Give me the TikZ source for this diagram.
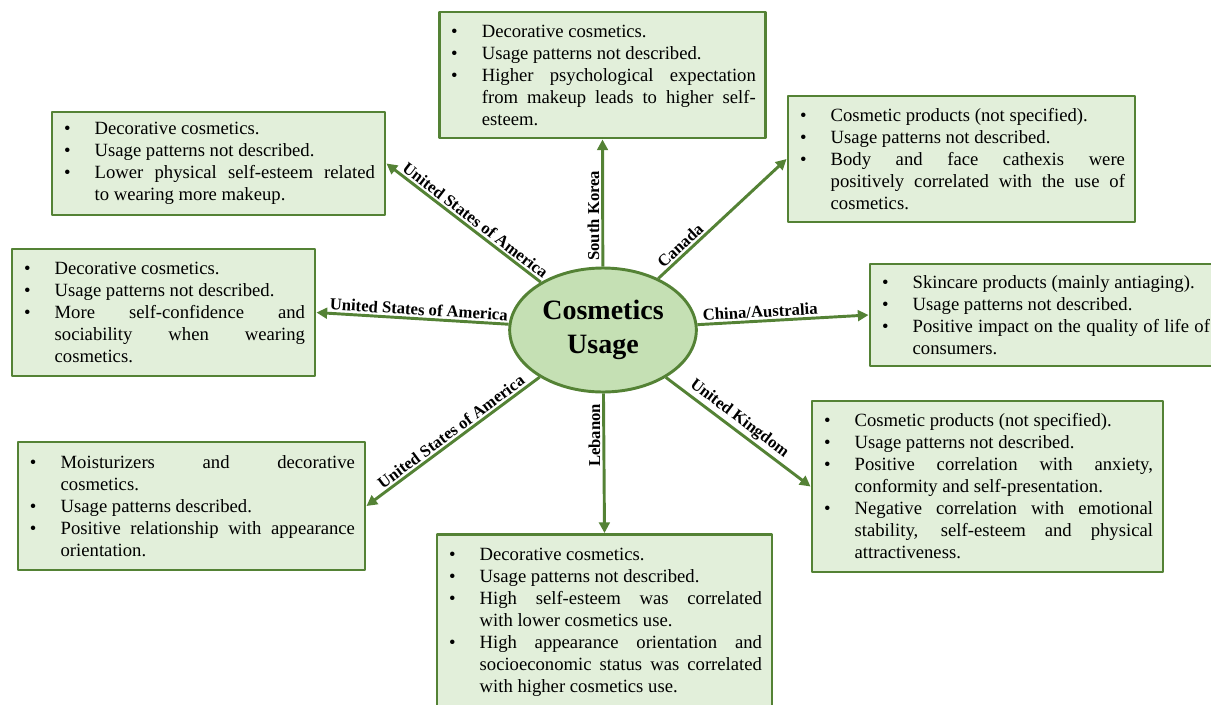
\documentclass[tikz,border=0pt]{standalone}
\usepackage{fontspec}
\setmainfont{Liberation Serif}
\usetikzlibrary{shapes.geometric,arrows.meta}
\definecolor{boxfill}{HTML}{E2EFDA}
\definecolor{boxline}{HTML}{548235}
\definecolor{ellfill}{HTML}{C5E0B4}
\newlength\itemind
\setlength\itemind{24.5pt}
\newcommand\bitem[1]{\hangindent=\itemind\hangafter=1\noindent\makebox[\itemind][l]{\hspace{1.5pt}\textbullet}#1\par}
\newcommand\boxfont{\fontsize{14pt}{16.5pt}\selectfont\hyphenpenalty=10000\tolerance=10000\emergencystretch=20pt}
\tikzset{
  infobox/.style={draw=boxline, line width=2.2pt, fill=boxfill, inner xsep=7.5pt, inner ysep=3pt, align=justify, font=\boxfont},
  link/.style={draw=boxline, line width=2.2pt, -{Triangle[width=8pt,length=8pt]}},
  country/.style={font=\fontsize{12.5pt}{14pt}\selectfont\bfseries, inner sep=1.5pt}
}
\begin{document}
\begin{tikzpicture}[x=0.75pt,y=0.75pt, line join=round]
\clip (0,0) rectangle (1211,-704);
% centre
\node[ellipse, draw=boxline, line width=2.2pt, fill=ellfill, minimum width=140pt, minimum height=93pt, inner sep=0pt, align=center,
  font=\fontsize{21pt}{25pt}\selectfont\bfseries] (cu) at (603,-330) {Cosmetics\\Usage};
% boxes
\node[infobox, text width=230pt, minimum height=94.5pt] (sk) at (602.5,-75) {%
  \bitem{Decorative cosmetics.}
  \bitem{Usage patterns not described.}
  \bitem{Higher psychological expectation \linebreak from makeup leads to higher self-\linebreak esteem.}};
\node[infobox, text width=234.75pt, minimum height=77.25pt] (us1) at (218.5,-163.5) {%
  \bitem{Decorative cosmetics.}
  \bitem{Usage patterns not described.}
  \bitem{Lower physical self-esteem related \linebreak to wearing more makeup.}};
\node[infobox, text width=245.25pt, minimum height=94.5pt] (ca) at (961.5,-159) {%
  \bitem{Cosmetic products (not specified).}
  \bitem{Usage patterns not described.}
  \bitem{Body and face cathexis were \linebreak positively correlated with the use of \linebreak cosmetics.}};
\node[infobox, text width=212.25pt, minimum height=95.25pt] (us2) at (163.5,-312.5) {%
  \bitem{Decorative cosmetics.}
  \bitem{Usage patterns not described.}
  \bitem{More self-confidence and \linebreak sociability when wearing \linebreak cosmetics.}};
\node[infobox, text width=247.5pt, minimum height=76.5pt] (cn) at (1045,-315) {%
  \bitem{Skincare products (mainly antiaging).}
  \bitem{Usage patterns not described.}
  \bitem{Positive impact on the quality of life of \linebreak consumers.}};
\node[infobox, text width=245.25pt, minimum height=96pt] (us3) at (191.5,-506) {%
  \bitem{Moisturizers and decorative \linebreak cosmetics.}
  \bitem{Usage patterns described.}
  \bitem{Positive relationship with appearance \linebreak orientation.}};
\node[infobox, text width=248.25pt, minimum height=128.25pt] (uk) at (987.5,-486.5) {%
  \bitem{Cosmetic products (not specified).}
  \bitem{Usage patterns not described.}
  \bitem{Positive correlation with anxiety, \linebreak conformity and self-presentation.}
  \bitem{Negative correlation with emotional \linebreak stability, self-esteem and physical \linebreak attractiveness.}};
\node[infobox, text width=236.25pt, minimum height=131.25pt] (lb) at (604.5,-622) {%
  \bitem{Decorative cosmetics.}
  \bitem{Usage patterns not described.}
  \bitem{High self-esteem was correlated \linebreak with lower cosmetics use.}
  \bitem{High appearance orientation and \linebreak socioeconomic status was correlated \linebreak with higher cosmetics use.}};
% arrows
\draw[link] (cu) -- (sk.south) node[country, pos=0.4, rotate=90, anchor=south] {South Korea};
\draw[link] (cu) -- (us1.east) node[country, pos=0.46, sloped, above] {United States of America};
\draw[link] (cu) -- (ca.west) node[country, pos=0.22, sloped, above] {Canada};
\draw[link] (cu) -- (us2.east) node[country, pos=0.47, sloped, above] {United States of America};
\draw[link] (cu) -- (cn.west) node[country, pos=0.37, sloped, above] {China/Australia};
\draw[link] (cu) -- (us3.east) node[country, pos=0.48, sloped, above] {United States of America};
\draw[link] (cu) -- (lb.north) node[country, pos=0.3, rotate=90, anchor=south] {Lebanon};
\draw[link] (cu) -- (uk.west) node[country, pos=0.46, sloped, above] {United Kingdom};
\end{tikzpicture}
\end{document}
